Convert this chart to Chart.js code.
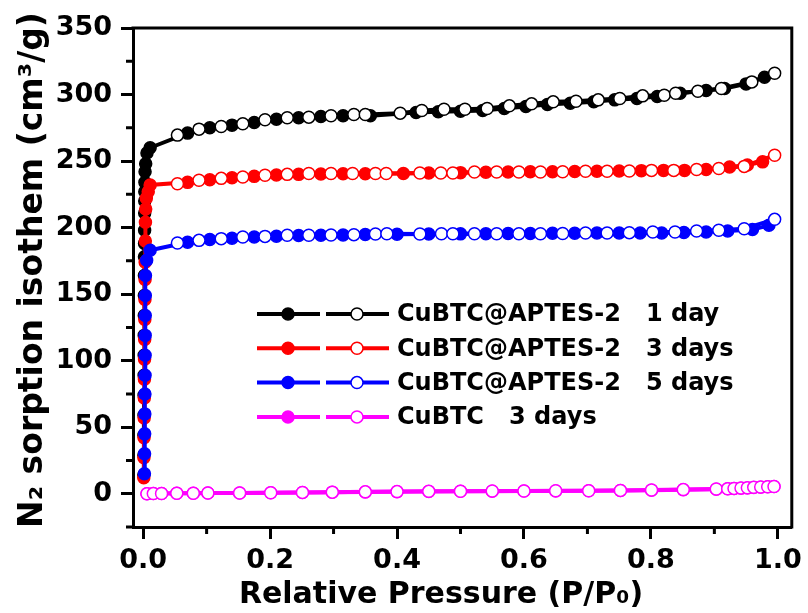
<!DOCTYPE html>
<html>
<head>
  <title>N2 sorption isotherms</title>
  <script src="https://cdn.jsdelivr.net/npm/chart.js@4"></script>
  <style>
    body { margin: 0; background: #fff; }
    #wrap { width: 808px; height: 613px; }
  </style>
</head>
<body>
<div id="wrap"><canvas id="graphCanvas" width="808" height="613"></canvas></div>

<script>
// CuBTC@APTES-2, 1 day
const day1AdsX = [0.0010, 0.0011, 0.0012, 0.0013, 0.0014, 0.0015, 0.0016, 0.0017, 0.0018, 0.0019, 0.0020, 0.0021, 0.0022, 0.0023, 0.0024, 0.0025, 0.0026, 0.0028, 0.0030, 0.0040, 0.0060, 0.0110,
  0.070, 0.105, 0.140, 0.175, 0.210, 0.245, 0.280, 0.315, 0.358, 0.430, 0.465, 0.500, 0.535, 0.569, 0.603, 0.637, 0.673, 0.710, 0.743, 0.778, 0.810, 0.846, 0.887, 0.916, 0.950, 0.979];
const day1AdsY = [14, 29, 44, 59, 74, 89, 104, 119, 134, 149, 164, 178, 188, 198, 211, 220, 227, 234, 242, 248, 256, 260,
  271, 275, 277, 279, 281.5, 282.5, 283.5, 284, 284, 286.5, 287, 287.5, 288, 289.5, 291, 292.5, 293.5, 294.5, 296, 297, 298.5, 301, 303, 304.5, 308, 313];
const day1DesX = [0.054, 0.088, 0.123, 0.157, 0.192, 0.227, 0.261, 0.296, 0.332, 0.350, 0.405, 0.439, 0.474, 0.507, 0.542, 0.577, 0.612, 0.646, 0.682, 0.717, 0.751, 0.787, 0.821, 0.839, 0.874, 0.911, 0.959, 0.995];
const day1DesY = [269.5, 274, 276, 278, 281, 282.5, 283, 284, 285, 285, 286, 288, 289, 289, 289.5, 291.5, 293, 294.5, 295, 296, 297, 299, 299.5, 301, 302.5, 304.5, 309.5, 316];

// CuBTC@APTES-2, 3 days
const day3AdsX = [0.0010, 0.0012, 0.0014, 0.0016, 0.0018, 0.0020, 0.0022, 0.0024, 0.0026, 0.0028, 0.0030, 0.0032, 0.0034, 0.0036, 0.0040, 0.0050, 0.0080, 0.0110,
  0.070, 0.105, 0.140, 0.175, 0.210, 0.245, 0.280, 0.315, 0.350, 0.410, 0.450, 0.500, 0.540, 0.575, 0.610, 0.645, 0.680, 0.715, 0.750, 0.785, 0.820, 0.853, 0.887, 0.924, 0.952, 0.976];
const day3AdsY = [12, 27, 42, 57, 72, 86, 101, 116, 131, 146, 161, 174, 190, 204, 214, 222, 227, 232,
  234, 236, 237.5, 238.5, 239.5, 240, 240.3, 240.5, 240.5, 240.6, 241, 241.3, 241.6, 241.8, 242, 242, 242.2, 242.4, 242.6, 242.8, 243, 243, 243.6, 245.6, 247, 249.4];
const day3DesX = [0.054, 0.088, 0.123, 0.157, 0.192, 0.227, 0.261, 0.296, 0.330, 0.366, 0.383, 0.436, 0.469, 0.488, 0.522, 0.557, 0.592, 0.626, 0.661, 0.697, 0.731, 0.766, 0.801, 0.836, 0.872, 0.907, 0.947, 0.995];
const day3DesY = [233, 235.6, 237, 238, 239.3, 240, 240.6, 240.6, 240.6, 240.6, 240.6, 241, 241, 241, 241.8, 241.8, 241.8, 241.8, 242, 242.3, 242.3, 242.5, 243, 243, 243.6, 244.4, 246, 254.4];

// CuBTC@APTES-2, 5 days
const day5AdsX = [0.0020, 0.0022, 0.0024, 0.0026, 0.0028, 0.0030, 0.0031, 0.0032, 0.0033, 0.0034, 0.0036, 0.0055, 0.0110,
  0.070, 0.105, 0.140, 0.175, 0.210, 0.245, 0.280, 0.315, 0.350, 0.400, 0.450, 0.500, 0.540, 0.575, 0.610, 0.645, 0.680, 0.715, 0.750, 0.783, 0.817, 0.852, 0.887, 0.921, 0.960, 0.986];
const day5AdsY = [15, 30, 45, 60, 75, 89, 104, 119, 134, 149, 164, 175.4, 183,
  189, 191, 192, 193, 193.5, 194, 194.2, 194.5, 194.8, 195, 195.2, 195.3, 195.4, 195.5, 195.6, 195.7, 195.8, 195.9, 196, 196, 196, 196.3, 196.7, 197.4, 198.5, 201.7];
const day5DesX = [0.054, 0.088, 0.123, 0.157, 0.192, 0.227, 0.261, 0.296, 0.332, 0.366, 0.384, 0.436, 0.470, 0.488, 0.522, 0.557, 0.592, 0.626, 0.661, 0.697, 0.731, 0.766, 0.803, 0.838, 0.872, 0.907, 0.947, 0.995];
const day5DesY = [188.4, 190.4, 191.7, 193, 193.4, 194.2, 194.2, 194.4, 194.7, 195.2, 195.4, 195.2, 195.4, 195.4, 195.4, 195.4, 195.4, 195.4, 195.6, 196, 196, 196.2, 196.7, 196.7, 197.4, 198, 199.2, 206.2];

// CuBTC, 3 days
const cubtcAdsX = [0.006, 0.016, 0.029, 0.053, 0.079, 0.102, 0.152, 0.201, 0.251, 0.298, 0.350, 0.400, 0.450, 0.500, 0.550, 0.600, 0.650, 0.702, 0.752, 0.801, 0.851, 0.903, 0.921, 0.931, 0.942, 0.952, 0.962, 0.973, 0.984, 0.994];
const cubtcAdsY = [0, 0.1, 0.2, 0.3, 0.4, 0.5, 0.6, 0.7, 0.9, 1.1, 1.3, 1.5, 1.7, 1.8, 1.9, 2.0, 2.1, 2.2, 2.4, 2.7, 3.0, 3.4, 3.7, 3.9, 4.2, 4.4, 4.7, 4.9, 5.2, 5.4];
const cubtcDesX = [0.006, 0.016, 0.029, 0.053, 0.079, 0.102, 0.152, 0.201, 0.251, 0.298, 0.350, 0.400, 0.450, 0.500, 0.550, 0.600, 0.650, 0.702, 0.752, 0.801, 0.851, 0.903, 0.921, 0.931, 0.942, 0.952, 0.962, 0.973, 0.984, 0.994];
const cubtcDesY = [0, 0.1, 0.2, 0.3, 0.4, 0.5, 0.6, 0.8, 1.0, 1.2, 1.4, 1.6, 1.8, 1.9, 2.0, 2.1, 2.2, 2.3, 2.5, 2.8, 3.1, 3.5, 3.8, 4.0, 4.3, 4.5, 4.8, 5.0, 5.3, 5.5];

// axes and legend
const xTickValues = [0, 0.2, 0.4, 0.6, 0.8, 1.0];
const xMinorValues = [0.1, 0.3, 0.5, 0.7, 0.9];
const yTickValues = [0, 50, 100, 150, 200, 250, 300, 350];
const yMinorValues = [-25, 25, 75, 125, 175, 225, 275, 325];
const legendLabels = ['CuBTC@APTES-2   1 day', 'CuBTC@APTES-2   3 days', 'CuBTC@APTES-2   5 days', 'CuBTC   3 days'];
const seriesColors = ['#000000', '#ff0000', '#0000ff', '#ff00ff'];

const FONT = 'DejaVu Sans';

function toPoints(xs, ys) {
  return xs.map((x, i) => ({ x: x, y: ys[i] }));
}

function series(xs, ys, color, open) {
  return {
    data: toPoints(xs, ys),
    borderColor: color,
    backgroundColor: color,
    borderWidth: 4,
    pointRadius: 6,
    pointHoverRadius: 6,
    pointBorderWidth: 1.5,
    pointBorderColor: color,
    pointBackgroundColor: open ? '#ffffff' : color,
    tension: 0,
    fill: false
  };
}

// first dataset ends up on top
const datasets = [
  series(day5DesX, day5DesY, seriesColors[2], true),
  series(day5AdsX, day5AdsY, seriesColors[2], false),
  series(day3DesX, day3DesY, seriesColors[1], true),
  series(day3AdsX, day3AdsY, seriesColors[1], false),
  series(day1DesX, day1DesY, seriesColors[0], true),
  series(day1AdsX, day1AdsY, seriesColors[0], false),
  series(cubtcDesX, cubtcDesY, seriesColors[3], true),
  series(cubtcAdsX, cubtcAdsY, seriesColors[3], false)
];

// frame, minor ticks, axis titles and legend
const decorations = {
  id: 'decorations',
  afterDraw(chart) {
    const ctx = chart.ctx;
    const a = chart.chartArea;
    const xs = chart.scales.x, ys = chart.scales.y;
    ctx.save();
    ctx.strokeStyle = '#000';
    ctx.lineWidth = 3;
    ctx.beginPath();
    ctx.moveTo(a.left - 1.5, a.top);
    ctx.lineTo(a.right, a.top);
    ctx.lineTo(a.right, a.bottom + 1.5);
    ctx.stroke();

    ctx.beginPath();
    xMinorValues.forEach(v => {
      const px = xs.getPixelForValue(v);
      ctx.moveTo(px, a.bottom);
      ctx.lineTo(px, a.bottom + 7);
    });
    yMinorValues.forEach(v => {
      const py = ys.getPixelForValue(v);
      ctx.moveTo(a.left, py);
      ctx.lineTo(a.left - 7, py);
    });
    ctx.stroke();

    // axis titles
    ctx.fillStyle = '#000';
    ctx.textAlign = 'center';
    ctx.textBaseline = 'alphabetic';
    ctx.font = 'bold 30px "' + FONT + '"';
    ctx.fillText('Relative Pressure (P/P\u2080)', 441, 603);

    ctx.save();
    ctx.translate(42, 270);
    ctx.rotate(-Math.PI / 2);
    ctx.font = 'bold 33px "' + FONT + '"';
    ctx.fillText('N\u2082 sorption isothem (cm\u00b3/g)', 0, 0);
    ctx.restore();

    // legend
    ctx.font = 'bold 24px "' + FONT + '"';
    ctx.textAlign = 'left';
    ctx.textBaseline = 'middle';
    legendLabels.forEach((label, i) => {
      const y = 314 + i * 34.3;
      const c = seriesColors[i];
      ctx.strokeStyle = c;
      ctx.lineWidth = 4;
      ctx.beginPath();
      ctx.moveTo(257, y); ctx.lineTo(320, y);
      ctx.moveTo(326, y); ctx.lineTo(389, y);
      ctx.stroke();
      ctx.lineWidth = 1.5;
      ctx.fillStyle = c;
      ctx.beginPath(); ctx.arc(288, y, 6, 0, Math.PI * 2); ctx.fill(); ctx.stroke();
      ctx.fillStyle = '#fff';
      ctx.beginPath(); ctx.arc(357, y, 6, 0, Math.PI * 2); ctx.fill(); ctx.stroke();
      ctx.fillStyle = '#000';
      ctx.fillText(label, 397, y + 1);
    });
    ctx.restore();
  }
};

const tickFont = { family: FONT, weight: 'bold', size: 27 };
const axisGrid = { display: true, drawOnChartArea: false, drawTicks: true, tickLength: 12, tickWidth: 3, tickColor: '#000' };
const axisBorder = { display: true, color: '#000', width: 3 };

new Chart(document.getElementById('graphCanvas'), {
  type: 'line',
  data: { datasets: datasets },
  options: {
    responsive: false,
    animation: false,
    layout: { padding: { top: 28, right: 12, left: 0, bottom: 0 } },
    plugins: { legend: { display: false }, tooltip: { enabled: false } },
    scales: {
      x: {
        type: 'linear',
        min: -0.016,
        max: 1.022,
        grid: axisGrid,
        border: axisBorder,
        afterBuildTicks: s => { s.ticks = xTickValues.map(v => ({ value: v })); },
        afterFit: s => { s.height = 86; },
        ticks: { font: tickFont, color: '#000', padding: 6, maxRotation: 0, callback: v => v.toFixed(1) }
      },
      y: {
        type: 'linear',
        min: -25,
        max: 350,
        grid: axisGrid,
        border: axisBorder,
        afterBuildTicks: s => { s.ticks = yTickValues.map(v => ({ value: v })); },
        afterFit: s => { s.width = 133; },
        ticks: { font: tickFont, color: '#000', padding: 9, callback: v => String(v) }
      }
    }
  },
  plugins: [decorations]
});
</script>
</body>
</html>
